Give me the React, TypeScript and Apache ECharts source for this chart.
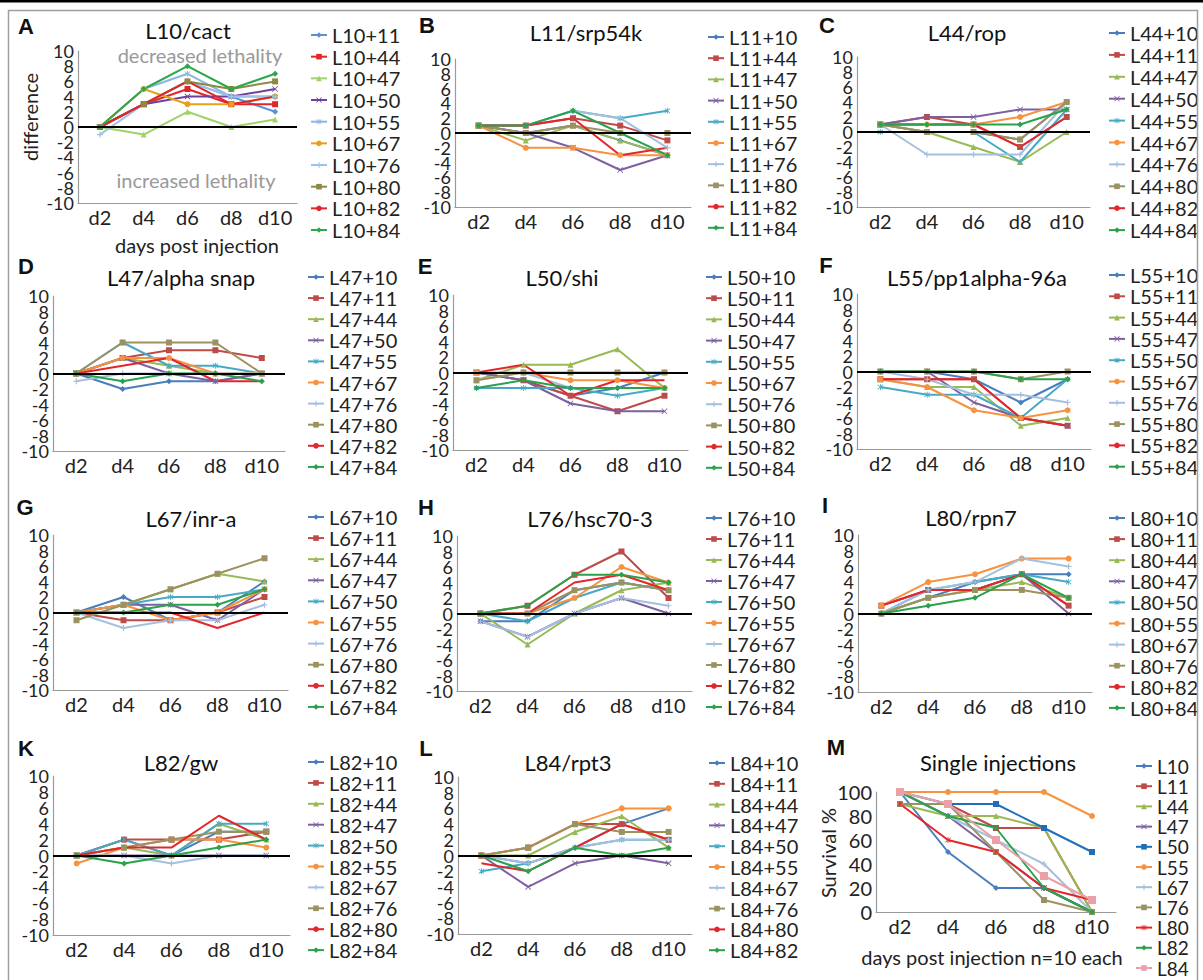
import React, { useEffect, useRef } from "react";
import * as echarts from "echarts";

const DAYS = ["d2", "d4", "d6", "d8", "d10"];

const A_NAMES = ["L10+11", "L10+44", "L10+47", "L10+50", "L10+55", "L10+67", "L10+76", "L10+80", "L10+82", "L10+84"];
const A_VALUES = [
  [0, 3, 6, 4, 2], [0, 3, 5, 3, 3], [0, -1, 2, 0, 1], [0, 3, 4, 4, 5], [0, 5, 7, 4, 4],
  [0, 5, 3, 3, 4], [-1, 3, 6, 4, 4], [0, 3, 6, 5, 6], [0, 3, 6, 3, 4], [0, 5, 8, 5, 7],
];
const B_NAMES = ["L11+10", "L11+44", "L11+47", "L11+50", "L11+55", "L11+67", "L11+76", "L11+80", "L11+82", "L11+84"];
const B_VALUES = [
  [1, 0, 1, -1, -3], [1, 1, 2, 1, -1], [1, -1, 1, -1, -3], [1, 0, -2, -5, -3], [1, 1, 3, 2, 3],
  [1, -2, -2, -3, -3], [1, 1, 3, 2, -2], [1, 0, 1, 0, 0], [1, 1, 2, -3, -2], [1, 1, 3, 0, -3],
];
const C_NAMES = ["L44+10", "L44+11", "L44+47", "L44+50", "L44+55", "L44+67", "L44+76", "L44+80", "L44+82", "L44+84"];
const C_VALUES = [
  [1, 0, 0, -1, 4], [1, 2, 1, -2, 2], [1, 0, -2, -4, 0], [1, 2, 2, 3, 3], [0, 0, 0, -4, 3],
  [1, 1, 1, 2, 4], [1, -3, -3, -3, 4], [1, 0, 0, -1, 4], [1, 1, 1, -2, 2], [1, 1, 1, 1, 3],
];
const D_NAMES = ["L47+10", "L47+11", "L47+44", "L47+50", "L47+55", "L47+67", "L47+76", "L47+80", "L47+82", "L47+84"];
const D_VALUES = [
  [0, -2, -1, -1, 0], [0, 2, 3, 3, 2], [0, 2, 1, 0, 0], [0, 2, 0, -1, 0], [0, 4, 1, 1, 0],
  [0, 2, 2, 0, 0], [-1, 0, 0, 0, 0], [0, 4, 4, 4, 0], [0, 1, 2, -1, -1], [0, -1, 0, 0, -1],
];
const E_NAMES = ["L50+10", "L50+11", "L50+44", "L50+47", "L50+55", "L50+67", "L50+76", "L50+80", "L50+82", "L50+84"];
const E_VALUES = [
  [0, -1, -3, -2, 0], [0, -1, -3, -5, -3], [-1, 1, 1, 3, -2], [0, -1, -4, -5, -5], [-2, -2, -2, -3, -2],
  [0, 0, -1, -1, -2], [-1, 0, -2, -2, -2], [-1, 0, 0, 0, 0], [0, 1, -3, -1, -1], [-2, -1, -2, -2, -2],
];
const F_NAMES = ["L55+10", "L55+11", "L55+44", "L55+47", "L55+50", "L55+67", "L55+76", "L55+80", "L55+82", "L55+84"];
const F_VALUES = [
  [0, 0, -1, -4, -1], [-1, -1, -1, -6, -7], [-1, -2, -2, -7, -6], [0, 0, -4, -6, -7], [-2, -3, -3, -6, -1],
  [-1, -2, -5, -6, -5], [0, -1, -3, -3, -4], [0, 0, 0, -1, 0], [-1, -1, -1, -6, -7], [0, 0, 0, -1, -1],
];
const G_NAMES = ["L67+10", "L67+11", "L67+44", "L67+47", "L67+50", "L67+55", "L67+76", "L67+80", "L67+82", "L67+84"];
const G_VALUES = [
  [0, 2, -1, 0, 4], [0, -1, -1, 0, 2], [0, 1, 3, 5, 4], [0, 1, 1, -1, 3], [0, 1, 2, 2, 3],
  [0, 1, -1, 0, 3], [0, -2, -1, -1, 1], [-1, 1, 3, 5, 7], [0, 0, 0, -2, 0], [0, 0, 1, 1, 3],
];
const H_NAMES = ["L76+10", "L76+11", "L76+44", "L76+47", "L76+50", "L76+55", "L76+67", "L76+80", "L76+82", "L76+84"];
const H_VALUES = [
  [-1, -1, 3, 4, 3], [0, 1, 5, 8, 2], [0, -4, 0, 3, 4], [-1, -3, 0, 2, 0], [0, -1, 2, 4, 3],
  [0, 0, 2, 6, 4], [-1, -3, 0, 2, 1], [0, 0, 3, 4, 3], [0, 0, 4, 5, 3], [0, 1, 5, 5, 4],
];
const I_NAMES = ["L80+10", "L80+11", "L80+44", "L80+47", "L80+50", "L80+55", "L80+67", "L80+76", "L80+82", "L80+84"];
const I_VALUES = [
  [0, 2, 4, 5, 5], [1, 3, 3, 5, 1], [0, 2, 3, 4, 2], [1, 3, 3, 5, 0], [0, 3, 4, 5, 4],
  [1, 4, 5, 7, 7], [0, 3, 4, 7, 6], [0, 2, 3, 3, 2], [1, 3, 3, 5, 1], [0, 1, 2, 5, 2],
];
const K_NAMES = ["L82+10", "L82+11", "L82+44", "L82+47", "L82+50", "L82+55", "L82+67", "L82+76", "L82+80", "L82+84"];
const K_VALUES = [
  [0, 2, 0, 3, 3], [0, 2, 2, 2, 3], [0, 1, 0, 4, 2], [0, 0, 0, 0, 0], [0, 2, 0, 4, 4],
  [-1, 1, 2, 2, 1], [0, 0, -1, 0, 0], [0, 1, 2, 3, 3], [0, 1, 1, 5, 2], [0, -1, 0, 1, 2],
];
const L_NAMES = ["L84+10", "L84+11", "L84+44", "L84+47", "L84+50", "L84+55", "L84+67", "L84+76", "L84+80", "L84+82"];
const L_VALUES = [
  [0, -1, 1, 4, 6], [0, 1, 4, 4, 2], [0, 0, 3, 5, 1], [0, -4, -1, 0, -1], [-2, -1, 1, 2, 2],
  [0, 1, 4, 6, 6], [0, -1, 1, 2, 2], [0, 1, 4, 3, 3], [-1, -2, 1, 4, 2], [0, -2, 1, 0, 1],
];
const M_NAMES = ["L10", "L11", "L44", "L47", "L50", "L55", "L67", "L76", "L80", "L82", "L84"];
const M_VALUES = [
  [100, 50, 20, 20, 0], [90, 90, 70, 70, 0], [90, 80, 80, 70, 0], [100, 80, 50, 20, 0],
  [100, 90, 90, 70, 50], [100, 100, 100, 100, 80], [100, 80, 60, 40, 0], [90, 90, 50, 10, 0],
  [90, 60, 50, 20, 10], [100, 80, 70, 20, 0], [100, 90, 60, 30, 10],
];

const PANEL_TITLES = ["L10/cact", "L11/srp54k", "L44/rop", "L47/alpha snap", "L50/shi", "L55/pp1alpha-96a",
  "L67/inr-a", "L76/hsc70-3", "L80/rpn7", "L82/gw", "L84/rpt3", "Single injections"];
const PANEL_LETTERS = ["A", "B", "C", "D", "E", "F", "G", "H", "I", "K", "L", "M"];

const FONT = "Lato, 'Open Sans', sans-serif";
const X_SYM = "path://M1,0L5,4L9,0L10,1L6,5L10,9L9,10L5,6L1,10L0,9L4,5L0,1Z";
const STAR_SYM = "path://M1,0L5,4L9,0L10,1L6,5L10,9L9,10L5,6L1,10L0,9L4,5L0,1Z M4.3,-1H5.7V11H4.3Z";
const PLUS_SYM = "path://M4,0H6V4H10V6H6V10H4V6H0V4H4Z";
const DASH_SYM = "path://M0,4H10V6H0Z";
const MARKERS = ["diamond", "rect", "triangle", X_SYM, STAR_SYM, "circle", PLUS_SYM, DASH_SYM, "none", "diamond"];
const M_MARKERS = ["diamond", "rect", "triangle", X_SYM, "rect", "circle", PLUS_SYM, DASH_SYM, STAR_SYM, "diamond", "rect"];
const COLORS = ["#4A7EBB", "#BE4B48", "#98B954", "#7D60A0", "#46AAC5", "#F69240", "#A5BFDE", "#9C9160", "#E3262B", "#2AA14B"];
const A_COLORS = ["#5B8FD6", "#E0262B", "#9ED36A", "#7040A0", "#8DB4E2", "#E6A118", "#9DC3E6", "#8C8A40", "#E0262B", "#2AA84A"];
const M_COLORS = ["#4A7EBB", "#BE4B48", "#98B954", "#7D60A0", "#1F6FB8", "#F69240", "#A5BFDE", "#9C9160", "#E3262B", "#2AA14B", "#EBA0A8"];

// layout: [letterX, letterY, titleX, titleY, gridLeft, gridTop, gridW, gridH, legendLeft, legendTop, legendGap]
const LAYOUT = [
  [26, 26, 188, 30, 78, 51, 219, 152, 310, 25, 1.67],
  [427, 25, 586, 32, 455, 59, 236, 148, 707, 27, 1.2],
  [827, 25, 967, 32, 857, 57, 233, 150, 1108, 23, 1.9],
  [26, 266, 181, 277, 53, 296, 232, 155, 307, 267, 1.1],
  [425, 266, 562, 277, 453, 295, 235, 155, 705, 267, 1.2],
  [826, 265, 977, 277, 857, 294, 234, 155, 1108, 265, 1.3],
  [25, 507, 191, 518, 53, 535, 235, 155, 307, 507, 1.1],
  [426, 507, 590, 518, 457, 536, 235, 155, 705, 508, 1.0],
  [825, 505, 971, 517, 858, 535, 234, 157, 1108, 508, 1.1],
  [26, 748, 181, 762, 53, 776, 237, 159, 307, 752, 0.9],
  [426, 748, 568, 762, 458, 777, 234, 157, 708, 753, 0.8],
  [836, 747, 998, 762, 876, 792, 240, 120, 1135, 756, 0.2],
];

const PANEL_NAMES = [A_NAMES, B_NAMES, C_NAMES, D_NAMES, E_NAMES, F_NAMES, G_NAMES, H_NAMES, I_NAMES, K_NAMES, L_NAMES, M_NAMES];
const PANEL_VALUES = [A_VALUES, B_VALUES, C_VALUES, D_VALUES, E_VALUES, F_VALUES, G_VALUES, H_VALUES, I_VALUES, K_VALUES, L_VALUES, M_VALUES];

function buildOption() {
  const grid: any[] = [];
  const xAxis: any[] = [];
  const yAxis: any[] = [];
  const legend: any[] = [];
  const series: any[] = [];
  const graphic: any[] = [];

  graphic.push({ type: "rect", shape: { x: 0, y: 0, width: 1203, height: 2.5 }, style: { fill: "#000" }, z: 10 });
  graphic.push({ type: "rect", shape: { x: 8.5, y: 10.5, width: 1189, height: 985 }, style: { fill: "none", stroke: "#a0a0a0", lineWidth: 1.5 }, z: 10 });

  PANEL_NAMES.forEach((names, i) => {
    const L = LAYOUT[i];
    const isM = i === 11;
    grid.push({ left: L[4], top: L[5], width: L[6], height: L[7] });
    xAxis.push({
      type: "category", gridIndex: i, data: DAYS, boundaryGap: true,
      axisLine: { show: true, onZero: false, lineStyle: { color: "#9a9a9a", width: 1.2 } },
      axisTick: { show: false }, splitLine: { show: false },
      axisLabel: { fontSize: 20, color: "#222", margin: 4, fontFamily: FONT, interval: 0, hideOverlap: false },
    });
    const yIdx = yAxis.length;
    const labelBase = { fontSize: isM ? 20 : 18, color: "#222", margin: 4, fontFamily: FONT, padding: [0, 0, 3, 0] };
    if (isM) {
      yAxis.push({
        type: "value", gridIndex: i, position: "left", min: 0, max: 100, interval: 20,
        axisLine: { show: true, lineStyle: { color: "#9a9a9a", width: 1.2 } },
        axisTick: { show: false }, splitLine: { show: false }, axisLabel: labelBase,
      });
    } else {
      // main axis: inner tick labels (ends drawn by companion axis so none get dropped)
      yAxis.push({
        type: "value", gridIndex: i, position: "left", min: -10, max: 10, interval: 2,
        axisLine: { show: true, lineStyle: { color: "#9a9a9a", width: 1.2 } },
        axisTick: { show: false }, splitLine: { show: false },
        axisLabel: { ...labelBase, showMinLabel: false, showMaxLabel: false },
      });
      yAxis.push({
        type: "value", gridIndex: i, position: "left", offset: 0, min: -10, max: 10, interval: 20,
        axisLine: { show: false }, axisTick: { show: false }, splitLine: { show: false },
        axisLabel: { ...labelBase, showMinLabel: true, showMaxLabel: true, formatter: (v: number) => (v === 0 ? "" : String(v)) },
      });
    }
    legend.push({
      left: L[8], top: L[9], orient: "vertical", itemGap: L[10], itemWidth: 16, itemHeight: 7,
      padding: 0, selectedMode: false, data: names, height: 260,
      textStyle: { fontSize: isM ? 19 : 20, lineHeight: 20, color: "#222", fontFamily: FONT },
    });
    const colors = i === 0 ? A_COLORS : isM ? M_COLORS : COLORS;
    const markers = isM ? M_MARKERS : MARKERS;
    const values = PANEL_VALUES[i];
    if (!isM) {
      series.push({
        type: "line", xAxisIndex: i, yAxisIndex: yIdx, data: [null, null, null, null, null],
        showSymbol: false, silent: true, lineStyle: { opacity: 0 }, z: 1,
        markLine: {
          silent: true, symbol: ["none", "none"], label: { show: false },
          lineStyle: { color: "#000", width: 2, type: "solid" }, data: [{ yAxis: 0 }],
        },
      });
    }
    names.forEach((n, k) => {
      series.push({
        type: "line", name: n, xAxisIndex: i, yAxisIndex: yIdx, data: values[k],
        symbol: markers[k], symbolSize: isM && k === 10 ? 8 : 6,
        lineStyle: { width: 2, color: colors[k] },
        itemStyle: { color: colors[k] }, emphasis: { disabled: true }, z: 3,
      });
    });
    graphic.push({
      type: "text", x: L[0], y: L[1],
      style: { text: PANEL_LETTERS[i], fontSize: 22, fontWeight: "bold", fontFamily: "'Liberation Sans', Arial, sans-serif", fill: "#111", align: "center", verticalAlign: "middle" },
    });
    graphic.push({
      type: "text", x: L[2], y: L[3],
      style: { text: PANEL_TITLES[i], fontSize: 22, fontFamily: FONT, fill: "#111", align: "center", verticalAlign: "middle" },
    });
  });

  const extraTexts: [string, number, number, number, string, number][] = [
    ["decreased lethality", 200, 55, 0, "#999", 20],
    ["increased lethality", 196, 180, 0, "#999", 20],
    ["difference", 30, 117, Math.PI / 2, "#222", 20],
    ["days post injection", 197, 245, 0, "#222", 20],
    ["Survival %", 828, 853, Math.PI / 2, "#222", 20],
    ["days post injection n=10 each", 992, 957, 0, "#222", 20],
  ];
  extraTexts.forEach(([t, x, y, r, c, fs]) => {
    graphic.push({
      type: "text", x, y, rotation: r,
      style: { text: t, fontSize: fs, fontFamily: FONT, fill: c, align: "center", verticalAlign: "middle" },
    });
  });

  return { animation: false, backgroundColor: "#fff", grid, xAxis, yAxis, legend, series, graphic };
}

export default function App() {
  const ref = useRef<HTMLDivElement>(null);
  useEffect(() => {
    if (!ref.current) return;
    const chart = echarts.init(ref.current, undefined, { renderer: "svg" });
    chart.setOption(buildOption() as any);
    return () => chart.dispose();
  }, []);
  return (
    <div
      ref={ref}
      style={{ position: "fixed", left: 0, top: 0, width: 1203, height: 980, background: "#fff" }}
    />
  );
}
